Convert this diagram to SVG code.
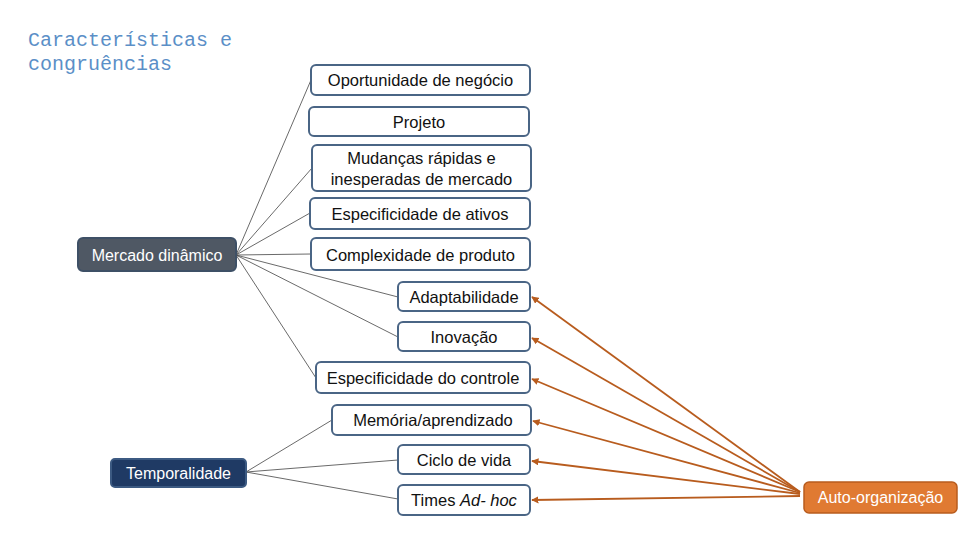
<svg xmlns="http://www.w3.org/2000/svg" width="960" height="540" viewBox="0 0 960 540">
<defs>
<style>
.box{fill:#fff;stroke:#4a6585;stroke-width:2}
.t{font-family:"Liberation Sans",Arial,sans-serif;font-size:16.5px;fill:#111;text-anchor:middle}
.w{font-family:"Liberation Sans",Arial,sans-serif;font-size:16px;fill:#fff;text-anchor:middle}
.ln{stroke:#444;stroke-width:0.8;fill:none}
.or{stroke:#b85c1e;stroke-width:1.8;fill:none;marker-end:url(#ah)}
.title{font-family:"Liberation Mono","Courier New",monospace;font-size:20px;fill:#5b8fc7}
</style>
<marker id="ah" viewBox="0 0 10 10" refX="9" refY="5" markerWidth="4" markerHeight="4" orient="auto">
<path d="M0,0 L10,5 L0,10 z" fill="#b85c1e"/>
</marker>
</defs>
<rect width="960" height="540" fill="#fff"/>
<text class="title" x="28" y="46">Características e</text>
<text class="title" x="28" y="70">congruências</text>
<g id="connectors">
<line class="ln" x1="236" y1="255" x2="311" y2="80"/>
<line class="ln" x1="236" y1="255" x2="312" y2="168"/>
<line class="ln" x1="236" y1="255" x2="310" y2="213"/>
<line class="ln" x1="236" y1="255" x2="311" y2="254"/>
<line class="ln" x1="236" y1="255" x2="398" y2="297"/>
<line class="ln" x1="236" y1="255" x2="398" y2="337"/>
<line class="ln" x1="236" y1="255" x2="316" y2="378"/>
<line class="ln" x1="246" y1="472" x2="332" y2="420"/>
<line class="ln" x1="246" y1="472" x2="398" y2="460"/>
<line class="ln" x1="246" y1="472" x2="398" y2="499"/>
<line class="or" x1="800" y1="492" x2="532" y2="297"/>
<line class="or" x1="800" y1="492" x2="532" y2="338"/>
<line class="or" x1="800" y1="492" x2="532" y2="379"/>
<line class="or" x1="800" y1="493" x2="533" y2="421"/>
<line class="or" x1="800" y1="494" x2="532" y2="461"/>
<line class="or" x1="800" y1="496" x2="532" y2="500"/>
</g>
<g id="n-oportunidade"><rect class="box" x="311" y="65" width="219" height="30" rx="5"/><text class="t" x="420.5" y="86">Oportunidade de negócio</text></g>
<g id="n-projeto"><rect class="box" x="309" y="107" width="220" height="29" rx="5"/><text class="t" x="419" y="127.5">Projeto</text></g>
<g id="n-mudancas"><rect class="box" x="312" y="145" width="219" height="46" rx="5"/><text class="t" x="421.5" y="164">Mudanças rápidas e</text><text class="t" x="421.5" y="185">inesperadas de mercado</text></g>
<g id="n-ativos"><rect class="box" x="310" y="198" width="220" height="31" rx="5"/><text class="t" x="420" y="219.5">Especificidade de ativos</text></g>
<g id="n-complexidade"><rect class="box" x="311" y="238" width="219" height="32" rx="5"/><text class="t" x="420.5" y="260.5">Complexidade de produto</text></g>
<g id="n-adaptabilidade"><rect class="box" x="398" y="282" width="132" height="29" rx="5"/><text class="t" x="464" y="302.5">Adaptabilidade</text></g>
<g id="n-inovacao"><rect class="box" x="398" y="322" width="132" height="29" rx="5"/><text class="t" x="464" y="342.5">Inovação</text></g>
<g id="n-controle"><rect class="box" x="316" y="362" width="214" height="31" rx="5"/><text class="t" x="423" y="383.5">Especificidade do controle</text></g>
<g id="n-memoria"><rect class="box" x="332" y="405" width="199" height="30" rx="5"/><text class="t" x="433" y="426">Memória/aprendizado</text></g>
<g id="n-ciclo"><rect class="box" x="398" y="445" width="132" height="29" rx="5"/><text class="t" x="464" y="465.5">Ciclo de vida</text></g>
<g id="n-times"><rect class="box" x="398" y="485" width="132" height="30" rx="5"/><text class="t" x="464" y="505.5">Times <tspan font-style="italic">Ad- hoc</tspan></text></g>
<g id="n-mercado"><rect x="78" y="238" width="158" height="33" rx="5" fill="#4f5864" stroke="#3e5066" stroke-width="2"/><text class="w" x="157" y="260.5">Mercado dinâmico</text></g>
<g id="n-temporalidade"><rect x="111" y="459" width="135" height="28" rx="4" fill="#1f3a64" stroke="#3c5a82" stroke-width="2"/><text class="w" x="178.5" y="478.5">Temporalidade</text></g>
<g id="n-auto"><rect x="804" y="482" width="153" height="31" rx="5" fill="#e07a32" stroke="#b85c1e" stroke-width="1.5"/><text class="w" x="880.5" y="503">Auto-organização</text></g>
</svg>
